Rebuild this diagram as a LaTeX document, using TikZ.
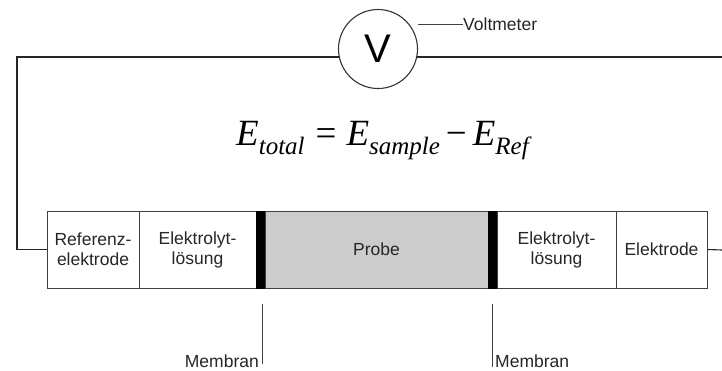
\documentclass[tikz,border=0pt]{standalone}
\usepackage{fontspec}
\setmainfont{Liberation Sans}
\newfontfamily\eqfont{Liberation Serif}
\begin{document}
\begin{tikzpicture}[x=1pt,y=-1pt,
  cell/.style={draw=black!75, line width=0.8pt, minimum height=77pt, inner sep=0pt, align=center,
     font=\fontsize{17.5}{20}\selectfont, anchor=center, text=black!85},
  membar/.style={fill=black, draw=none, minimum height=78pt, minimum width=9pt, inner sep=0pt},
  wire/.style={line width=1.1pt, black!85},
  leader/.style={line width=0.8pt, black!75},
  lbl/.style={font=\fontsize{17.5}{19}\selectfont, inner sep=0pt, text=black!85}]
\useasboundingbox (0,0) rectangle (722,370);
% cells of the cell chain
\node[cell, minimum width=92pt] (ref) at (93,249.5) {Referenz-\\elektrode};
\node[cell, minimum width=117pt] (el1) at (197.5,249.5) {Elektrolyt-\\lösung};
\node[cell, minimum width=223pt, fill=black!20] (probe) at (376.5,249.5) {Probe};
\node[cell, minimum width=119pt] (el2) at (556.5,249.5) {Elektrolyt-\\lösung};
\node[cell, minimum width=91pt] (elk) at (661.5,249.5) {Elektrode};
\node[membar] (mem1) at (260.5,249.5) {};
\node[membar] (mem2) at (492.5,249.5) {};
% wires
\coordinate (tl) at (17,57);
\coordinate (tr) at (722,57);
\coordinate (rr) at (722,250);
\draw[wire] (ref.west) -| (tl) -- (tr);
\draw[wire] (elk.east) -- (rr);
% voltmeter
\node[circle, draw=black!80, line width=1.1pt, fill=white, minimum size=79pt, inner sep=0pt,
      font=\fontsize{40}{40}\selectfont] (vm) at (378,49) {V};
\node[lbl, anchor=west] (vml) at (463,24) {Voltmeter};
\draw[leader] (vm.east |- vml.west) -- (vml.west);
% equation
\newcommand{\eqsub}[1]{\raisebox{-9pt}{\fontsize{25}{25}\selectfont\textit{#1}}}
\node[inner sep=0pt, font=\eqfont\fontsize{37}{40}\selectfont, anchor=base west] (eq) at (236,145)
  {\textit{E}\eqsub{total}\hspace{11pt}=\hspace{10pt}\textit{E}\eqsub{sample}\hspace{6pt}\char"2212\hspace{6pt}\textit{E}\eqsub{Ref}};
% membrane labels
\node[lbl, anchor=base east] (m1) at (259,367) {Membran};
\node[lbl, anchor=base west] (m2) at (495,367) {Membran};
\draw[leader] ([shift={(1.5,15)}]mem1.south) -- ([shift={(1.5,75)}]mem1.south);
\draw[leader] ([shift={(-0.5,15)}]mem2.south) -- ([shift={(-0.5,78)}]mem2.south);
\end{tikzpicture}
\end{document}
